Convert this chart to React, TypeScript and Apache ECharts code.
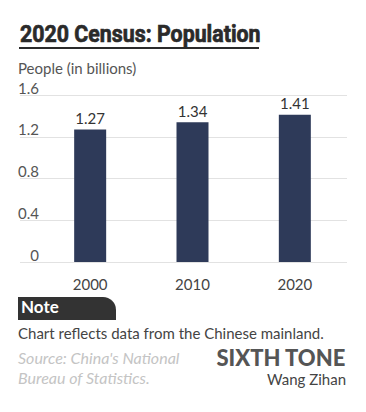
import React, { useEffect, useRef } from "react";
import * as echarts from "echarts";

const categories = ["2000", "2010", "2020"];
const population = [1.27, 1.34, 1.41];
const yMin = 0;
const yMax = 1.6;
const yInterval = 0.4;

const titleText = "2020 Census: Population";
const unitText = "People (in billions)";
const noteLabel = "Note";
const noteText = "Chart reflects data from the Chinese mainland.";
const sourceLines = ["Source: China's National", "Bureau of Statistics."];
const brandText = "SIXTH TONE";
const authorText = "Wang Zihan";

export default function App() {
  const ref = useRef<HTMLDivElement>(null);
  useEffect(() => {
    if (!ref.current) return;
    const chart = echarts.init(ref.current, null, { renderer: "svg" });
    const font = "Lato, 'Noto Sans', sans-serif";
    chart.setOption({
      animation: false,
      backgroundColor: "#ffffff",
      grid: [
        { left: 20, right: 19, top: 95, bottom: 150 },
        { left: 39, right: 20, top: 95, bottom: 150 },
      ],
      xAxis: [
        { type: "category", gridIndex: 0, data: categories, show: false },
        {
          type: "category",
          gridIndex: 1,
          data: categories,
          axisLine: { show: false },
          axisTick: { show: false },
          axisLabel: { color: "#444", fontSize: 15, fontFamily: font, margin: 14 },
        },
      ],
      yAxis: [
        {
          type: "value",
          gridIndex: 0,
          min: yMin,
          max: yMax,
          interval: yInterval,
          axisLine: { show: false },
          axisTick: { show: false },
          splitLine: { lineStyle: { color: "#e2e2e2", width: 1 } },
          axisLabel: {
            inside: true,
            align: "right",
            margin: 19,
            verticalAlign: "bottom",
            color: "#555",
            fontSize: 15,
            fontFamily: font,
            formatter: (v: number) => (v === 0 ? "0" : v.toFixed(1)),
          },
        },
        {
          type: "value",
          gridIndex: 1,
          min: yMin,
          max: yMax,
          interval: yInterval,
          show: false,
          splitLine: { show: false },
        },
      ],
      series: [
        {
          type: "bar",
          xAxisIndex: 1,
          yAxisIndex: 1,
          data: population,
          barWidth: 32,
          itemStyle: { color: "#2e3a59" },
          label: {
            show: true,
            position: "top",
            distance: 4,
            color: "#333",
            fontSize: 15,
            fontFamily: font,
            formatter: (p: any) => p.value.toFixed(2),
          },
        },
      ],
      graphic: [
        {
          type: "text",
          x: 20,
          y: 22,
          scaleX: 0.89,
          style: {
            text: titleText,
            fill: "#2a2a2a",
            stroke: "#2a2a2a",
            lineWidth: 0.7,
            font: "bold 24px Roboto, 'Noto Sans', sans-serif",
          },
        },
        {
          type: "rect",
          shape: { x: 19, y: 47, width: 240, height: 2 },
          style: { fill: "#2a2a2a" },
        },
        {
          type: "text",
          left: 18,
          top: 60,
          style: { text: unitText, fill: "#555", font: `15px ${font}` },
        },
        {
          type: "rect",
          shape: { x: 18, y: 297, width: 98, height: 23, r: [0, 13, 0, 0] },
          style: { fill: "#333333" },
        },
        {
          type: "text",
          left: 21,
          top: 298,
          style: { text: noteLabel, fill: "#ffffff", font: `bold 17px ${font}` },
        },
        {
          type: "text",
          left: 18,
          top: 325,
          style: { text: noteText, fill: "#444", font: `15px ${font}` },
        },
        {
          type: "text",
          left: 18,
          top: 349,
          style: { text: sourceLines[0], fill: "#c4c4c4", font: `italic 16px ${font}` },
        },
        {
          type: "text",
          left: 18,
          top: 369,
          style: { text: sourceLines[1], fill: "#c4c4c4", font: `italic 16px ${font}` },
        },
        {
          type: "text",
          right: 20,
          top: 346,
          style: { text: brandText, fill: "#555", font: `900 22px ${font}` },
        },
        {
          type: "text",
          right: 20,
          top: 371,
          style: { text: authorText, fill: "#444", font: `15px ${font}` },
        },
      ],
    });
    return () => chart.dispose();
  }, []);
  return (
    <div
      ref={ref}
      style={{ position: "fixed", left: 0, top: 0, width: 366, height: 412 }}
    />
  );
}
